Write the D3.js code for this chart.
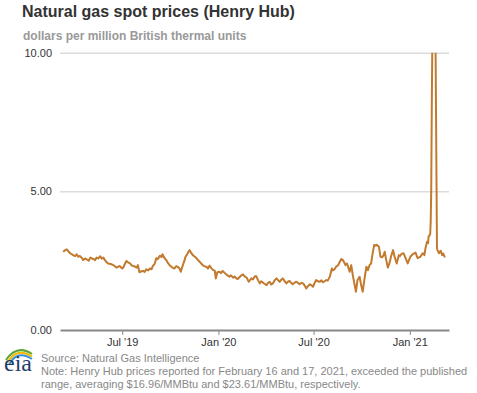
<!DOCTYPE html>
<html lang="en">
<head>
<meta charset="UTF-8">
<title>Natural gas spot prices (Henry Hub)</title>
<script src="https://d3js.org/d3.v7.min.js"></script>
<style>
  body { margin: 0; background: #fff; font-family: "Liberation Sans", Arial, sans-serif; }
  .grid line { stroke: #dcdcdc; stroke-width: 1.5px; }
  .tick text { fill: #333; font-size: 11px; }
</style>
</head>
<body>
<svg width="477" height="393"></svg>
<script>
// daily Henry Hub spot price readings (dollars per MMBtu)
const dates = [
  "2019-03-10","2019-03-14","2019-03-17","2019-03-20","2019-03-23","2019-03-26","2019-03-29",
  "2019-04-02","2019-04-05","2019-04-08","2019-04-11","2019-04-15","2019-04-17","2019-04-21","2019-04-24","2019-04-28",
  "2019-05-01","2019-05-04","2019-05-07","2019-05-10","2019-05-13","2019-05-16","2019-05-20","2019-05-23","2019-05-26","2019-05-30",
  "2019-06-04","2019-06-09","2019-06-14","2019-06-17","2019-06-20","2019-06-23","2019-06-26",
  "2019-07-01","2019-07-03","2019-07-06","2019-07-09","2019-07-12","2019-07-16","2019-07-19","2019-07-22","2019-07-26","2019-07-29","2019-07-31",
  "2019-08-03","2019-08-07","2019-08-10","2019-08-13","2019-08-16","2019-08-20","2019-08-23","2019-08-26","2019-08-29",
  "2019-09-01","2019-09-04","2019-09-07","2019-09-11","2019-09-14","2019-09-16","2019-09-20","2019-09-24","2019-09-27","2019-09-30",
  "2019-10-03","2019-10-06","2019-10-09","2019-10-12","2019-10-16","2019-10-19","2019-10-21","2019-10-25","2019-10-28","2019-10-30",
  "2019-11-02","2019-11-04","2019-11-07","2019-11-10","2019-11-13","2019-11-17","2019-11-20","2019-11-23","2019-11-26","2019-11-29",
  "2019-12-02","2019-12-05","2019-12-09","2019-12-12","2019-12-15","2019-12-18","2019-12-22","2019-12-25","2019-12-27","2019-12-30",
  "2020-01-03","2020-01-06","2020-01-09","2020-01-13","2020-01-16","2020-01-19","2020-01-22","2020-01-25","2020-01-29",
  "2020-02-01","2020-02-04","2020-02-07","2020-02-11","2020-02-14","2020-02-17","2020-02-20","2020-02-24","2020-02-28",
  "2020-03-04","2020-03-07","2020-03-10","2020-03-13","2020-03-17","2020-03-20","2020-03-23","2020-03-26","2020-03-30",
  "2020-04-02","2020-04-05","2020-04-08","2020-04-11","2020-04-14","2020-04-17","2020-04-21","2020-04-24","2020-04-27","2020-04-30",
  "2020-05-03","2020-05-06","2020-05-10","2020-05-13","2020-05-16","2020-05-19","2020-05-22","2020-05-26","2020-05-29",
  "2020-06-01","2020-06-04","2020-06-08","2020-06-11","2020-06-14","2020-06-17","2020-06-20","2020-06-24","2020-06-27","2020-06-30",
  "2020-07-03","2020-07-06","2020-07-09","2020-07-13","2020-07-16","2020-07-19","2020-07-22","2020-07-25","2020-07-28",
  "2020-08-01","2020-08-05","2020-08-07","2020-08-10","2020-08-13","2020-08-17","2020-08-20","2020-08-23","2020-08-26","2020-08-28","2020-08-31",
  "2020-09-03","2020-09-05","2020-09-08","2020-09-11","2020-09-14","2020-09-17","2020-09-20","2020-09-23","2020-09-27","2020-09-30",
  "2020-10-03","2020-10-06","2020-10-10","2020-10-13","2020-10-16","2020-10-19","2020-10-22","2020-10-25","2020-10-28","2020-10-30",
  "2020-11-03","2020-11-06","2020-11-09","2020-11-12","2020-11-14","2020-11-17","2020-11-20","2020-11-23","2020-11-26","2020-11-30",
  "2020-12-03","2020-12-07","2020-12-11","2020-12-13","2020-12-16","2020-12-20","2020-12-24","2020-12-28",
  "2021-01-02","2021-01-07","2021-01-12","2021-01-16","2021-01-21","2021-01-26","2021-01-29","2021-01-31",
  "2021-02-03","2021-02-05","2021-02-06","2021-02-09","2021-02-10","2021-02-11","2021-02-12","2021-02-16","2021-02-17","2021-02-18","2021-02-19","2021-02-22","2021-02-23","2021-02-26",
  "2021-03-01","2021-03-04","2021-03-06","2021-03-09"
];
const prices = [
  2.82,2.88,2.91,2.84,2.77,2.74,2.70,
  2.66,2.73,2.64,2.67,2.60,2.52,2.58,2.55,2.50,
  2.61,2.58,2.56,2.52,2.61,2.58,2.66,2.57,2.61,2.49,
  2.40,2.38,2.34,2.30,2.25,2.28,2.31,
  2.22,2.25,2.38,2.49,2.44,2.40,2.33,2.31,2.28,2.25,2.34,
  2.08,2.12,2.13,2.09,2.19,2.15,2.22,2.19,2.32,
  2.38,2.59,2.55,2.68,2.63,2.73,2.59,2.50,2.40,2.33,
  2.28,2.24,2.22,2.30,2.27,2.20,2.10,2.34,2.50,2.64,
  2.72,2.80,2.88,2.78,2.70,2.64,2.59,2.52,2.46,2.40,
  2.34,2.30,2.28,2.22,2.32,2.24,2.16,2.14,1.86,2.08,
  2.10,2.05,2.13,2.06,2.01,1.96,1.92,1.97,1.89,
  1.93,1.86,1.84,1.92,1.97,2.01,1.93,1.89,1.74,
  1.86,1.82,1.92,1.95,1.79,1.68,1.76,1.71,1.66,
  1.62,1.70,1.74,1.64,1.68,1.78,1.86,1.80,1.74,1.81,
  1.86,1.78,1.68,1.74,1.77,1.70,1.65,1.71,1.74,
  1.70,1.65,1.70,1.68,1.60,1.50,1.58,1.65,1.61,1.56,
  1.70,1.80,1.76,1.74,1.79,1.72,1.76,1.80,1.78,
  1.92,2.22,2.15,2.19,2.28,2.34,2.45,2.56,2.52,2.46,2.34,
  2.40,2.28,2.10,2.34,1.98,1.68,1.38,1.80,1.92,1.62,
  1.38,1.80,2.28,2.16,2.34,2.40,2.77,3.07,3.04,3.07,
  3.00,2.64,2.62,2.70,2.82,2.52,2.25,2.40,2.64,2.88,
  2.64,2.40,2.70,2.66,2.74,2.77,2.59,2.40,
  2.64,2.74,2.79,2.59,2.64,2.77,2.70,2.95,
  3.18,3.13,3.37,3.45,3.90,5.00,7.84,16.96,23.61,15.00,11.00,2.95,2.88,2.77,
  2.86,2.70,2.76,2.62
];
const yTicks = [0, 5, 10];
const xTicks = ["2019-07-01", "2020-01-01", "2020-07-01", "2021-01-01"];
const xDomain = ["2019-03-04", "2021-03-17"];

const parse = d3.timeParse("%Y-%m-%d");
const data = dates.map((d, i) => ({ date: parse(d), value: prices[i] }));

const svg = d3.select("svg");
const plotL = 60, plotR = 449, plotT = 52.7, plotB = 330;

const x = d3.scaleTime().domain(xDomain.map(parse)).range([plotL, plotR]);
const y = d3.scaleLinear().domain([0, 10]).range([plotB, plotT]);

// title + subtitle
svg.append("text")
    .attr("x", 22).attr("y", 17)
    .style("font-size", "16px").style("font-weight", "bold").style("fill", "#333")
    .text("Natural gas spot prices (Henry Hub)");
svg.append("text")
    .attr("x", 23).attr("y", 40)
    .style("font-size", "12px").style("font-weight", "bold").style("fill", "#999")
    .text("dollars per million British thermal units");

// y gridlines and labels
const yAxis = svg.append("g")
    .attr("class", "grid")
    .attr("transform", `translate(${plotL},0)`)
    .call(d3.axisLeft(y).tickValues(yTicks).tickSize(-(plotR - plotL)).tickPadding(8)
        .tickFormat(d3.format(".2f")));
yAxis.select(".domain").remove();
yAxis.selectAll(".tick line").filter(d => d === 0).remove();

// x axis
const xAxis = svg.append("g")
    .attr("transform", `translate(0,${plotB})`)
    .call(d3.axisBottom(x).tickValues(xTicks.map(parse)).tickSize(5).tickPadding(3)
        .tickSizeOuter(0).tickFormat(d3.timeFormat("%b '%y")));
xAxis.select(".domain").attr("stroke", "#888").attr("stroke-width", 2);
xAxis.selectAll(".tick line").attr("stroke", "#888");

// line, clipped to the plot area
svg.append("clipPath").attr("id", "plot")
  .append("rect").attr("x", plotL).attr("y", plotT).attr("width", plotR - plotL).attr("height", plotB - plotT);

svg.append("path")
    .datum(data)
    .attr("clip-path", "url(#plot)")
    .attr("fill", "none")
    .attr("stroke", "#c27a2e")
    .attr("stroke-width", 2)
    .attr("stroke-linejoin", "round")
    .attr("d", d3.line().x(d => x(d.date)).y(d => y(d.value)));

// eia logo
const logo = svg.append("g").attr("transform", "translate(3,346)");
[["#5aa532", 0], ["#f2b705", 2.5], ["#3d8fcf", 5]].forEach(([c, o]) => {
  logo.append("path")
      .attr("d", `M${3 + o * 0.6},${14 + o} Q${14},${-2 + o} ${29},${8 + o}`)
      .attr("fill", "none").attr("stroke", c).attr("stroke-width", 2);
});
logo.append("text")
    .attr("x", 1).attr("y", 25)
    .style("font-family", "'Liberation Serif', 'DejaVu Serif', serif")
    .style("font-size", "24px").style("fill", "#1f3d6b")
    .text("eia");

// source and note
const foot = svg.append("g").style("font-size", "11px").style("fill", "#888");
foot.append("text").attr("x", 41).attr("y", 362).text("Source: Natural Gas Intelligence");
foot.append("text").attr("x", 41).attr("y", 375)
    .text("Note: Henry Hub prices reported for February 16 and 17, 2021, exceeded the published");
foot.append("text").attr("x", 41).attr("y", 388)
    .text("range, averaging $16.96/MMBtu and $23.61/MMBtu, respectively.");
</script>
</body>
</html>
